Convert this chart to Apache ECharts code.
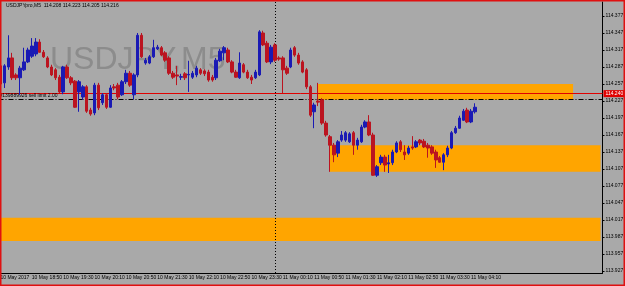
<!DOCTYPE html>
<html>
<head>
<meta charset="utf-8">
<script src="https://cdn.jsdelivr.net/npm/echarts@6/dist/echarts.min.js"></script>
<style>
  html, body { margin: 0; padding: 0; background: #a9a9a9; }
  #chart { width: 625px; height: 286px; }
</style>
</head>
<body>
<div id="chart"></div>
<script>
// USDJPYpro, M5 - bars from 10 May 18:10 to 11 May 04:15, rest of the axis is chart shift
const symbolTitle = 'USDJPYpro,M5  114.208 114.223 114.205 114.216'
const watermark = 'USDJPY,M5'

const open = [
  114.289, 114.259, 114.287, 114.303, 114.273, 114.268, 114.282, 114.296, 114.306, 114.310,
  114.331, 114.313, 114.303, 114.287, 114.282, 114.269, 114.243, 114.287, 114.268, 114.262,
  114.243, 114.234, 114.252, 114.211, 114.206, 114.255, 114.224, 114.238, 114.216, 114.252,
  114.255, 114.238, 114.261, 114.276, 114.238, 114.273, 114.343, 114.294, 114.294, 114.305,
  114.319, 114.321, 114.312, 114.303, 114.276, 114.273, 114.269, 114.275, 114.273, 114.269,
  114.273, 114.282, 114.280, 114.278, 114.269, 114.268, 114.298, 114.312, 114.317, 114.296,
  114.278, 114.268, 114.291, 114.278, 114.269, 114.268, 114.273, 114.347, 114.329, 114.296,
  114.326, 114.303, 114.303, 114.285, 114.287, 114.321, 114.308, 114.296, 114.282, 114.252,
  114.208, 114.227, 114.229, 114.188, 114.164, 114.149, 114.135, 114.158, 114.158, 114.155,
  114.171, 114.149, 114.155, 114.181, 114.190, 114.167, 114.096, 114.118, 114.128, 114.116,
  114.118, 114.137, 114.155, 114.137, 114.135, 114.146, 114.146, 114.158, 114.156, 114.149,
  114.146, 114.137, 114.127, 114.119, 114.132, 114.144, 114.171, 114.179, 114.193, 114.211,
  114.190, 114.208
]
const close = [
  114.257, 114.289, 114.303, 114.268, 114.268, 114.285, 114.296, 114.317, 114.324, 114.331,
  114.313, 114.305, 114.287, 114.273, 114.268, 114.243, 114.287, 114.268, 114.259, 114.216,
  114.261, 114.252, 114.209, 114.204, 114.255, 114.215, 114.238, 114.216, 114.250, 114.250,
  114.234, 114.261, 114.276, 114.255, 114.273, 114.343, 114.305, 114.299, 114.305, 114.321,
  114.322, 114.308, 114.299, 114.276, 114.269, 114.271, 114.270, 114.268, 114.274, 114.276,
  114.285, 114.276, 114.275, 114.264, 114.264, 114.299, 114.315, 114.321, 114.296, 114.278,
  114.269, 114.294, 114.278, 114.268, 114.264, 114.278, 114.349, 114.326, 114.296, 114.322,
  114.299, 114.301, 114.282, 114.276, 114.317, 114.308, 114.294, 114.278, 114.252, 114.202,
  114.220, 114.225, 114.188, 114.167, 114.149, 114.132, 114.155, 114.167, 114.171, 114.169,
  114.149, 114.158, 114.181, 114.190, 114.167, 114.096, 114.111, 114.128, 114.114, 114.118,
  114.137, 114.153, 114.141, 114.132, 114.144, 114.144, 114.155, 114.153, 114.146, 114.144,
  114.135, 114.123, 114.119, 114.132, 114.144, 114.171, 114.179, 114.197, 114.209, 114.190,
  114.209, 114.216
]
const low = [
  114.253, 114.250, 114.282, 114.264, 114.264, 114.238, 114.280, 114.294, 114.303, 114.306,
  114.312, 114.303, 114.285, 114.271, 114.264, 114.241, 114.239, 114.266, 114.255, 114.215,
  114.208, 114.229, 114.206, 114.201, 114.202, 114.211, 114.220, 114.213, 114.215, 114.246,
  114.230, 114.236, 114.257, 114.252, 114.230, 114.269, 114.303, 114.291, 114.292, 114.303,
  114.317, 114.306, 114.296, 114.273, 114.266, 114.255, 114.264, 114.264, 114.243, 114.266,
  114.269, 114.273, 114.271, 114.261, 114.261, 114.264, 114.296, 114.299, 114.294, 114.276,
  114.268, 114.266, 114.276, 114.266, 114.257, 114.266, 114.271, 114.324, 114.294, 114.292,
  114.296, 114.298, 114.241, 114.273, 114.285, 114.305, 114.291, 114.276, 114.248, 114.199,
  114.179, 114.218, 114.185, 114.164, 114.102, 114.119, 114.128, 114.155, 114.155, 114.153,
  114.132, 114.141, 114.153, 114.179, 114.165, 114.095, 114.093, 114.114, 114.102, 114.100,
  114.114, 114.135, 114.137, 114.123, 114.132, 114.141, 114.144, 114.149, 114.144, 114.127,
  114.132, 114.109, 114.118, 114.105, 114.128, 114.142, 114.169, 114.178, 114.192, 114.188,
  114.188, 114.205
]
const high = [
  114.296, 114.292, 114.343, 114.312, 114.276, 114.289, 114.321, 114.321, 114.338, 114.338,
  114.336, 114.317, 114.306, 114.291, 114.285, 114.273, 114.289, 114.291, 114.271, 114.264,
  114.264, 114.255, 114.255, 114.215, 114.259, 114.259, 114.241, 114.241, 114.255, 114.257,
  114.259, 114.264, 114.282, 114.280, 114.276, 114.347, 114.347, 114.303, 114.308, 114.335,
  114.326, 114.324, 114.315, 114.306, 114.280, 114.289, 114.275, 114.278, 114.298, 114.280,
  114.289, 114.285, 114.283, 114.282, 114.273, 114.303, 114.319, 114.324, 114.321, 114.299,
  114.282, 114.313, 114.294, 114.282, 114.273, 114.282, 114.352, 114.351, 114.333, 114.326,
  114.329, 114.306, 114.306, 114.289, 114.321, 114.324, 114.312, 114.299, 114.285, 114.255,
  114.224, 114.259, 114.232, 114.192, 114.167, 114.153, 114.158, 114.174, 114.174, 114.172,
  114.174, 114.162, 114.185, 114.193, 114.202, 114.171, 114.114, 114.132, 114.132, 114.132,
  114.141, 114.156, 114.158, 114.149, 114.148, 114.165, 114.158, 114.160, 114.160, 114.153,
  114.149, 114.141, 114.130, 114.135, 114.148, 114.174, 114.183, 114.201, 114.213, 114.215,
  114.213, 114.223
]

// price scale labels on the right
const yTicks = [114.377, 114.347, 114.317, 114.287, 114.257, 114.227, 114.197, 114.167,
  114.137, 114.107, 114.077, 114.047, 114.017, 113.987, 113.957, 113.927]
// time labels, one every 8 bars
const timeLabels = ['10 May 2017', '10 May 18:50', '10 May 19:30', '10 May 20:10', '10 May 20:50',
  '10 May 21:30', '10 May 22:10', '10 May 22:50', '10 May 23:30', '11 May 00:10', '11 May 00:50',
  '11 May 01:30', '11 May 02:10', '11 May 02:50', '11 May 03:30', '11 May 04:10']

// orange rectangles
const zoneFrom = ['11 May 00:55', '11 May 01:10', '10 May 18:10']
const zoneTo = ['11 May 06:20', '11 May 06:55', '11 May 06:55']
const zoneTop = [114.257, 114.149, 114.021]
const zoneBottom = [114.229, 114.102, 113.980]

const redLevel = 114.240
const sellLimit = 114.230
const bidPrice = 114.216
const daySeparator = '11 May 00:00'

// M5 time slots (bars + empty shift area)
const categories = []
for (let i = 0; i < 154; i++) {
  const m = 18 * 60 + 10 + i * 5
  const hh = String(Math.floor((m % 1440) / 60)).padStart(2, '0')
  const mm = String(m % 60).padStart(2, '0')
  categories.push((m >= 1440 ? '11' : '10') + ' May ' + hh + ':' + mm)
}

const candles = open.map((o, i) => [o, close[i], low[i], high[i]])
const showTime = i => i % 8 === 0 && i / 8 < timeLabels.length

const chart = echarts.init(document.getElementById('chart'))
chart.setOption({
  backgroundColor: '#a9a9a9',
  animation: false,
  textStyle: { fontFamily: 'Liberation Sans' },
  grid: { left: -1.5, right: 22.5, top: 2, bottom: 13, containLabel: false, outerBoundsMode: 'none' },
  xAxis: {
    type: 'category',
    data: categories,
    boundaryGap: true,
    axisLine: { lineStyle: { color: '#000', width: 1 } },
    axisTick: { alignWithLabel: true, interval: showTime, length: 3, lineStyle: { color: '#000' } },
    axisLabel: {
      interval: showTime,
      showMinLabel: true,
      showMaxLabel: true,
      formatter: (v, i) => (showTime(i) ? timeLabels[i / 8] : ''),
      align: 'left',
      fontSize: 5,
      color: '#000',
      margin: 2
    },
    splitLine: { show: false }
  },
  yAxis: {
    type: 'value',
    position: 'right',
    min: 113.9235,
    max: 114.4017,
    splitLine: { show: false },
    axisLine: { show: true, lineStyle: { color: '#000', width: 1 } },
    axisTick: { show: true, length: 2, customValues: yTicks, lineStyle: { color: '#000' } },
    axisLabel: { customValues: yTicks, formatter: v => v.toFixed(3), fontSize: 5, color: '#000', margin: 3 }
  },
  graphic: [
    {
      type: 'text', left: 50, top: 44, z: 0, silent: true,
      style: { text: watermark, font: '32px "Liberation Sans"', fill: '#8c8c8c' }
    },
    {
      type: 'text', left: 6, top: 3, z: 10, silent: true,
      style: { text: symbolTitle, font: '5px "Liberation Sans"', fill: '#000' }
    },
    {
      type: 'rect', z: 20, silent: true,
      shape: { x: 0.75, y: 0.75, width: 623.5, height: 284.5 },
      style: { fill: 'none', stroke: '#e01010', lineWidth: 1.5 }
    }
  ],
  series: [
    {
      type: 'line',
      data: [],
      z: 1,
      silent: true,
      markArea: {
        silent: true,
        itemStyle: { color: '#ffa500' },
        data: zoneFrom.map((f, i) => [
          { xAxis: f, yAxis: zoneTop[i] },
          { xAxis: zoneTo[i], yAxis: zoneBottom[i] }
        ])
      }
    },
    {
      type: 'candlestick',
      data: candles,
      z: 5,
      barWidth: 3,
      itemStyle: {
        color: '#1a1ab4',
        color0: '#bb1420',
        borderColor: '#1a1ab4',
        borderColor0: '#bb1420',
        borderWidth: 1
      },
      markLine: {
        silent: true,
        symbol: ['none', 'none'],
        animation: false,
        data: [
          {
            yAxis: redLevel,
            lineStyle: { color: '#e00000', type: 'solid', width: 1 },
            label: {
              position: 'end', distance: 1, formatter: redLevel.toFixed(3),
              backgroundColor: '#e00000', color: '#fff', fontSize: 5, padding: [1, 2]
            }
          },
          {
            yAxis: sellLimit,
            lineStyle: { color: '#000', type: [5, 2, 1, 2], width: 1 },
            label: {
              position: 'insideStartTop', distance: 1, formatter: '#139889926 sell limit 2.00',
              color: '#000', fontSize: 5
            }
          },
          {
            yAxis: bidPrice,
            lineStyle: { opacity: 0 },
            label: {
              position: 'end', distance: 1, formatter: bidPrice.toFixed(3),
              backgroundColor: '#000', color: '#fff', fontSize: 5, padding: [1, 2]
            }
          },
          {
            xAxis: daySeparator,
            lineStyle: { color: '#000', type: [1, 2], width: 1 },
            label: { show: false }
          }
        ]
      }
    }
  ]
})
</script>
</body>
</html>
